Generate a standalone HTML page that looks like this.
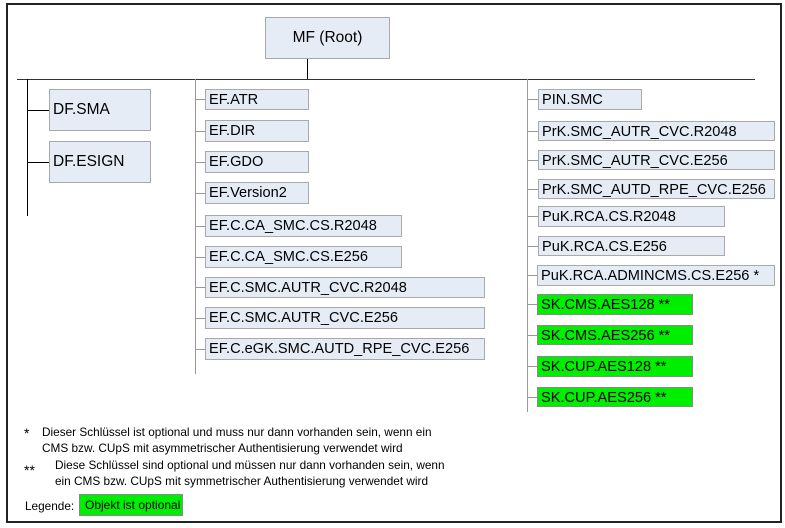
<!DOCTYPE html>
<html><head><meta charset="utf-8"><style>
body{margin:0;width:785px;height:528px;background:#fff;position:relative;overflow:hidden;font-family:"Liberation Sans",Arial,sans-serif;}
.b{position:absolute;box-sizing:border-box;background:#e6ecf6;border:1px solid #a9a9a9;font-size:14.6px;line-height:20px;padding-left:3px;white-space:nowrap;color:#000;}
.g{background:#00ee00;border-color:#8a8a8a;}
.l{position:absolute;background:#000;}
.h{position:absolute;height:1px;background:#999;}
.t{position:absolute;font-size:11.8px;line-height:16px;white-space:nowrap;}
</style></head><body>
<div style="position:absolute;left:6px;top:3px;width:772px;height:516px;border:2px solid #222;"></div>
<div class="b" style="left:265px;top:17px;width:125px;height:42px;line-height:40px;text-align:center;padding:0;font-size:15.5px;">MF (Root)</div>
<div class="l" style="left:307px;top:59px;width:1px;height:20px"></div>
<div class="l" style="left:17px;top:79px;width:738px;height:1px;background:#333"></div>
<div class="l" style="left:27px;top:79px;width:1px;height:137px"></div>
<div class="l" style="left:27px;top:110px;width:22px;height:1px"></div>
<div class="l" style="left:27px;top:162px;width:22px;height:1px"></div>
<div class="b" style="left:49px;top:89px;width:102px;height:42px;line-height:40px;font-size:15.5px">DF.SMA</div>
<div class="b" style="left:49px;top:141px;width:102px;height:42px;line-height:40px;font-size:15.5px">DF.ESIGN</div>
<div class="l" style="left:195px;top:79px;width:1px;height:295px;background:#999"></div>
<div class="h" style="left:195px;top:99px;width:10px"></div>
<div class="h" style="left:195px;top:131px;width:10px"></div>
<div class="h" style="left:195px;top:162px;width:10px"></div>
<div class="h" style="left:195px;top:193px;width:10px"></div>
<div class="h" style="left:195px;top:226px;width:10px"></div>
<div class="h" style="left:195px;top:257px;width:10px"></div>
<div class="h" style="left:195px;top:287px;width:10px"></div>
<div class="h" style="left:195px;top:318px;width:10px"></div>
<div class="h" style="left:195px;top:349px;width:10px"></div>
<div class="b" style="left:205px;top:89px;width:104px;height:21px">EF.ATR</div>
<div class="b" style="left:205px;top:120px;width:104px;height:22px">EF.DIR</div>
<div class="b" style="left:205px;top:151px;width:104px;height:22px">EF.GDO</div>
<div class="b" style="left:205px;top:182px;width:104px;height:22px">EF.Version2</div>
<div class="b" style="left:205px;top:215px;width:197px;height:22px">EF.C.CA_SMC.CS.R2048</div>
<div class="b" style="left:205px;top:246px;width:197px;height:22px">EF.C.CA_SMC.CS.E256</div>
<div class="b" style="left:205px;top:277px;width:280px;height:21px">EF.C.SMC.AUTR_CVC.R2048</div>
<div class="b" style="left:205px;top:307px;width:280px;height:22px">EF.C.SMC.AUTR_CVC.E256</div>
<div class="b" style="left:205px;top:338px;width:280px;height:22px">EF.C.eGK.SMC.AUTD_RPE_CVC.E256</div>
<div class="l" style="left:527px;top:79px;width:1px;height:333px;background:#999"></div>
<div class="h" style="left:527px;top:99px;width:11px"></div>
<div class="h" style="left:527px;top:131px;width:11px"></div>
<div class="h" style="left:527px;top:160px;width:11px"></div>
<div class="h" style="left:527px;top:189px;width:11px"></div>
<div class="h" style="left:527px;top:216px;width:11px"></div>
<div class="h" style="left:527px;top:246px;width:11px"></div>
<div class="h" style="left:527px;top:275px;width:11px"></div>
<div class="h" style="left:527px;top:304px;width:11px"></div>
<div class="h" style="left:527px;top:335px;width:11px"></div>
<div class="h" style="left:527px;top:366px;width:11px"></div>
<div class="h" style="left:527px;top:397px;width:11px"></div>
<div class="b" style="left:538px;top:89px;width:104px;height:21px">PIN.SMC</div>
<div class="b" style="left:538px;top:121px;width:237px;height:20px">PrK.SMC_AUTR_CVC.R2048</div>
<div class="b" style="left:538px;top:150px;width:237px;height:20px">PrK.SMC_AUTR_CVC.E256</div>
<div class="b" style="left:538px;top:179px;width:237px;height:20px">PrK.SMC_AUTD_RPE_CVC.E256</div>
<div class="b" style="left:538px;top:206px;width:187px;height:21px">PuK.RCA.CS.R2048</div>
<div class="b" style="left:538px;top:236px;width:187px;height:20px">PuK.RCA.CS.E256</div>
<div class="b" style="left:537px;top:265px;width:238px;height:21px">PuK.RCA.ADMINCMS.CS.E256 *</div>
<div class="b g" style="left:537px;top:294px;width:156px;height:21px">SK.CMS.AES128 **</div>
<div class="b g" style="left:537px;top:325px;width:156px;height:20px">SK.CMS.AES256 **</div>
<div class="b g" style="left:537px;top:356px;width:156px;height:21px">SK.CUP.AES128 **</div>
<div class="b g" style="left:537px;top:387px;width:156px;height:20px">SK.CUP.AES256 **</div>
<div class="t" style="left:24px;top:425px;font-size:14px">*</div>
<div class="t" style="left:42px;top:424px">Dieser Schlüssel ist optional und muss nur dann vorhanden sein, wenn ein<br>CMS bzw. CUpS mit asymmetrischer Authentisierung verwendet wird</div>
<div class="t" style="left:24px;top:462px;font-size:14px">**</div>
<div class="t" style="left:55px;top:457px">Diese Schlüssel sind optional und müssen nur dann vorhanden sein, wenn<br>ein CMS bzw. CUpS mit symmetrischer Authentisierung verwendet wird</div>
<div class="t" style="left:25px;top:498px">Legende:</div>
<div class="b g" style="left:79px;top:494px;width:104px;height:22px;font-size:12px;line-height:20px;padding-left:5px">Objekt ist optional</div>
</body></html>
